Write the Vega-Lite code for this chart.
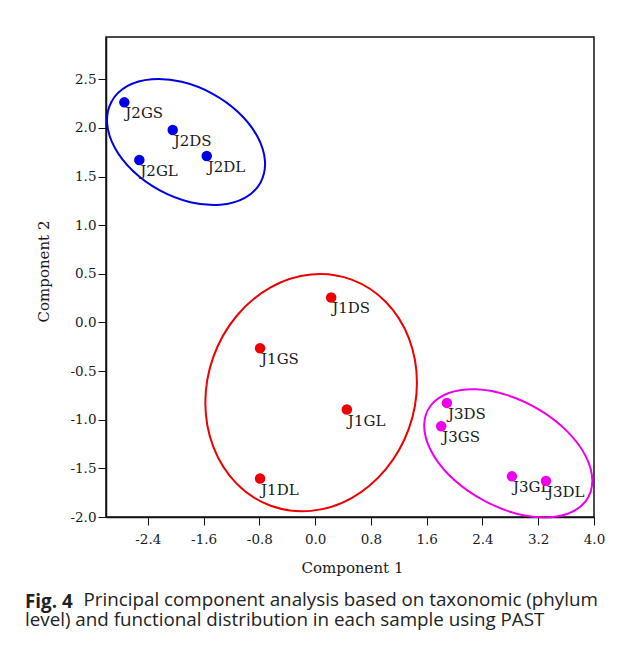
{
  "$schema": "https://vega.github.io/schema/vega-lite/v6.json",
  "width": 488,
  "height": 480,
  "autosize": "none",
  "padding": {"left": 106, "top": 37, "right": 36, "bottom": 130},
  "background": "white",
  "config": {
    "view": {"stroke": "#111", "strokeWidth": 1.5},
    "font": "DejaVu Serif"
  },
  "title": {
    "text": "Fig. 4",
    "subtitle": ["\u200b\u00a0\u00a0\u00a0\u00a0\u00a0\u00a0\u00a0\u00a0\u00a0\u00a0\u00a0\u00a0Principal component analysis based on taxonomic (phylum", "level) and functional distribution in each sample using PAST"],
    "orient": "bottom",
    "anchor": "start",
    "frame": "group",
    "dx": -81,
    "offset": 18,
    "font": "Open Sans",
    "fontSize": 18.8,
    "fontWeight": "bold",
    "color": "#222",
    "subtitleFont": "Open Sans",
    "subtitleFontSize": 18.8,
    "subtitleColor": "#222",
    "subtitleLineHeight": 19.5,
    "subtitlePadding": -20.8
  },
  "datasets": {
    "pts": [
      {"sample": "J2GS", "group": "J2", "x": -2.737, "y": 2.263},
      {"sample": "J2DS", "group": "J2", "x": -2.043, "y": 1.978},
      {"sample": "J2GL", "group": "J2", "x": -2.522, "y": 1.670},
      {"sample": "J2DL", "group": "J2", "x": -1.555, "y": 1.711},
      {"sample": "J1DS", "group": "J1", "x": 0.23, "y": 0.257},
      {"sample": "J1GS", "group": "J1", "x": -0.79, "y": -0.265},
      {"sample": "J1GL", "group": "J1", "x": 0.455, "y": -0.895},
      {"sample": "J1DL", "group": "J1", "x": -0.79, "y": -1.605},
      {"sample": "J3DS", "group": "J3", "x": 1.89, "y": -0.827},
      {"sample": "J3GS", "group": "J3", "x": 1.808, "y": -1.067},
      {"sample": "J3GL", "group": "J3", "x": 2.823, "y": -1.582},
      {"sample": "J3DL", "group": "J3", "x": 3.311, "y": -1.63}
    ],
    "ell": [
      {"group": "J2", "i": 0, "x": -0.783, "y": 1.440},
      {"group": "J2", "i": 1, "x": -1.008, "y": 1.281},
      {"group": "J2", "i": 2, "x": -1.362, "y": 1.210},
      {"group": "J2", "i": 3, "x": -1.790, "y": 1.236},
      {"group": "J2", "i": 4, "x": -2.228, "y": 1.357},
      {"group": "J2", "i": 5, "x": -2.609, "y": 1.554},
      {"group": "J2", "i": 6, "x": -2.874, "y": 1.796},
      {"group": "J2", "i": 7, "x": -2.984, "y": 2.048},
      {"group": "J2", "i": 8, "x": -2.921, "y": 2.270},
      {"group": "J2", "i": 9, "x": -2.696, "y": 2.429},
      {"group": "J2", "i": 10, "x": -2.342, "y": 2.500},
      {"group": "J2", "i": 11, "x": -1.914, "y": 2.474},
      {"group": "J2", "i": 12, "x": -1.476, "y": 2.353},
      {"group": "J2", "i": 13, "x": -1.095, "y": 2.156},
      {"group": "J2", "i": 14, "x": -0.830, "y": 1.914},
      {"group": "J2", "i": 15, "x": -0.720, "y": 1.662},
      {"group": "J1", "i": 0, "x": 1.460, "y": -0.619},
      {"group": "J1", "i": 1, "x": 1.344, "y": -1.092},
      {"group": "J1", "i": 2, "x": 1.015, "y": -1.508},
      {"group": "J1", "i": 3, "x": 0.523, "y": -1.805},
      {"group": "J1", "i": 4, "x": -0.0575, "y": -1.937},
      {"group": "J1", "i": 5, "x": -0.638, "y": -1.884},
      {"group": "J1", "i": 6, "x": -1.130, "y": -1.654},
      {"group": "J1", "i": 7, "x": -1.459, "y": -1.282},
      {"group": "J1", "i": 8, "x": -1.575, "y": -0.825},
      {"group": "J1", "i": 9, "x": -1.459, "y": -0.352},
      {"group": "J1", "i": 10, "x": -1.130, "y": 0.064},
      {"group": "J1", "i": 11, "x": -0.638, "y": 0.361},
      {"group": "J1", "i": 12, "x": -0.0575, "y": 0.493},
      {"group": "J1", "i": 13, "x": 0.523, "y": 0.440},
      {"group": "J1", "i": 14, "x": 1.015, "y": 0.210},
      {"group": "J1", "i": 15, "x": 1.344, "y": -0.162},
      {"group": "J3", "i": 0, "x": 3.976, "y": -1.628},
      {"group": "J3", "i": 1, "x": 3.884, "y": -1.834},
      {"group": "J3", "i": 2, "x": 3.623, "y": -1.966},
      {"group": "J3", "i": 3, "x": 3.231, "y": -2.003},
      {"group": "J3", "i": 4, "x": 2.770, "y": -1.940},
      {"group": "J3", "i": 5, "x": 2.309, "y": -1.786},
      {"group": "J3", "i": 6, "x": 1.917, "y": -1.566},
      {"group": "J3", "i": 7, "x": 1.656, "y": -1.311},
      {"group": "J3", "i": 8, "x": 1.564, "y": -1.062},
      {"group": "J3", "i": 9, "x": 1.656, "y": -0.856},
      {"group": "J3", "i": 10, "x": 1.917, "y": -0.725},
      {"group": "J3", "i": 11, "x": 2.309, "y": -0.687},
      {"group": "J3", "i": 12, "x": 2.770, "y": -0.750},
      {"group": "J3", "i": 13, "x": 3.231, "y": -0.904},
      {"group": "J3", "i": 14, "x": 3.623, "y": -1.125},
      {"group": "J3", "i": 15, "x": 3.884, "y": -1.379}
    ]
  },
  "encoding": {
    "x": {
      "field": "x", "type": "quantitative",
      "scale": {"domain": [-3.0, 4.0], "nice": false, "zero": false},
      "axis": {
        "values": [-2.4, -1.6, -0.8, 0, 0.8, 1.6, 2.4, 3.2, 4.0],
        "labelExpr": "(datum.value < 0 ? '-' : '') + format(abs(datum.value), '.1f')",
        "grid": false, "tickSize": 8, "tickColor": "#111", "domainColor": "#111", "domainWidth": 1.5,
        "labelFont": "DejaVu Serif", "labelFontSize": 13.5, "labelColor": "#1a1a1a", "labelPadding": 7, "labelFlush": false,
        "title": "Component 1", "titleFont": "DejaVu Serif", "titleFontSize": 15, "titleFontWeight": "normal", "titleColor": "#1a1a1a",
        "titleX": 246, "titleY": 50, "titleBaseline": "middle", "titleAlign": "center"
      }
    },
    "y": {
      "field": "y", "type": "quantitative",
      "scale": {"domain": [-2.0, 2.935], "nice": false, "zero": false},
      "axis": {
        "values": [-2.0, -1.5, -1.0, -0.5, 0, 0.5, 1.0, 1.5, 2.0, 2.5],
        "labelExpr": "(datum.value < 0 ? '-' : '') + format(abs(datum.value), '.1f')",
        "grid": false, "tickSize": 8, "tickColor": "#111", "domainColor": "#111", "domainWidth": 1.5,
        "labelFont": "DejaVu Serif", "labelFontSize": 13.5, "labelColor": "#1a1a1a", "labelPadding": 2, "labelFlush": false,
        "title": "Component 2", "titleFont": "DejaVu Serif", "titleFontSize": 15, "titleFontWeight": "normal", "titleColor": "#1a1a1a",
        "titleX": -63, "titleY": 234, "titleBaseline": "middle", "titleAlign": "center", "titleAngle": -90
      }
    },
    "color": {
      "field": "group", "type": "nominal",
      "scale": {"domain": ["J1", "J2", "J3"], "range": ["#ee0000", "#0000e6", "#ee00ee"]},
      "legend": null
    }
  },
  "layer": [
    {
      "data": {"name": "ell"},
      "mark": {"type": "line", "interpolate": "cardinal-closed", "strokeWidth": 2},
      "encoding": {"order": {"field": "i", "type": "quantitative"}, "detail": {"field": "group"}}
    },
    {
      "data": {"name": "pts"},
      "mark": {"type": "text", "align": "left", "baseline": "top", "dx": 1, "dy": 4, "font": "DejaVu Serif", "fontSize": 15},
      "encoding": {"text": {"field": "sample"}, "color": {"value": "#1a1a1a"}}
    },
    {
      "data": {"name": "pts"},
      "mark": {"type": "circle", "size": 110, "opacity": 1}
    }
  ]
}
